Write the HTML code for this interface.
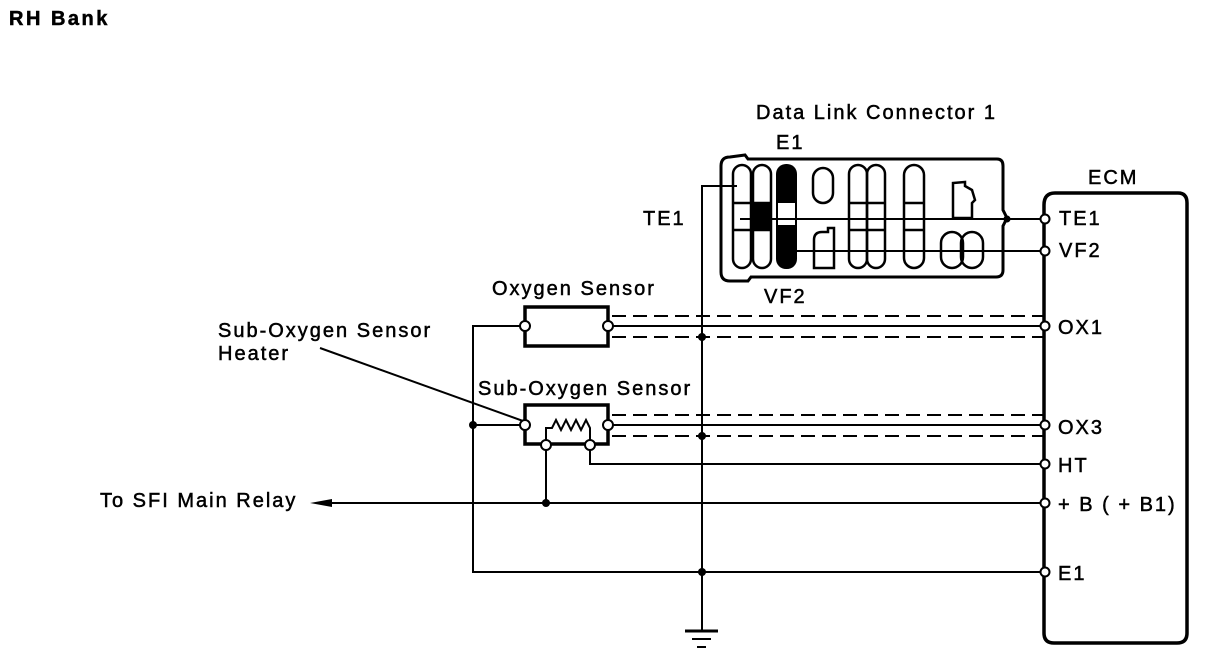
<!DOCTYPE html>
<html><head><meta charset="utf-8"><style>
html,body{margin:0;padding:0;background:#fff;}
svg{display:block;}
text{font-family:"Liberation Sans",Arial,sans-serif;fill:#000;font-size:20px;letter-spacing:2px;stroke:#000;stroke-width:0.5;}
</style></head><body>
<svg width="1216" height="668" viewBox="0 0 1216 668" xmlns="http://www.w3.org/2000/svg">
<rect width="1216" height="668" fill="#fff"/>
<text x="9" y="25" font-weight="bold" style="letter-spacing:2.5px">RH Bank</text>

<text x="756" y="119">Data Link Connector 1</text>
<text x="776" y="149">E1</text>
<text x="764" y="303">VF2</text>
<text x="643" y="225">TE1</text>
<path d="M730 157 L745 155 L748 159 L997 159 Q1003 159 1003 166 L1003 210 L1007 218 L1003 226 L1003 270 Q1003 277 996 277 L751 277 L748 281 L730 281 Q721 281 721 272 L721 166 Q721 157 730 157 Z" fill="none" stroke="#000" stroke-width="3"/>
<g fill="none" stroke="#000" stroke-width="2.5">
<rect x="733" y="165" width="18" height="103" rx="9"/>
<rect x="753" y="165" width="18" height="103" rx="9"/>
<rect x="849" y="165" width="18" height="103" rx="9"/>
<rect x="867" y="165" width="18" height="103" rx="9"/>
<rect x="904" y="165" width="20" height="103" rx="10"/>
<rect x="813" y="168" width="20" height="35" rx="10"/>
<path d="M814 268 L814 240 Q814 232 822 232 L828 232 L828 228 L834 228 L834 268 Z"/>
<path d="M953 183 L953 218 L972 218 L972 203 L975 200 L972 190 L965 186 L965 182 Z"/>
<rect x="941" y="232" width="22" height="36" rx="11"/>
<rect x="961" y="232" width="22" height="36" rx="11"/>
<line x1="733" y1="203" x2="771" y2="203"/>
<line x1="733" y1="230" x2="771" y2="230"/>
<line x1="849" y1="203" x2="885" y2="203"/>
<line x1="849" y1="230" x2="885" y2="230"/>
<line x1="904" y1="203" x2="924" y2="203"/>
<line x1="904" y1="230" x2="924" y2="230"/>
</g>
<rect x="776" y="164" width="21" height="105" rx="10" fill="#000"/>
<rect x="778" y="203" width="17" height="22" fill="#fff"/>
<rect x="753" y="203" width="18" height="27" fill="#000"/>

<text x="1088" y="184">ECM</text>
<path d="M1055 193 L1178 193 Q1187 193 1187 203 L1187 633 Q1187 643 1177 643 L1054 643 Q1044 643 1044 633 L1044 205 Q1044 193 1055 193 Z" fill="none" stroke="#000" stroke-width="3.5"/>
<text x="1059" y="225">TE1</text>
<text x="1059" y="257">VF2</text>
<text x="1058" y="334">OX1</text>
<text x="1058" y="434">OX3</text>
<text x="1058" y="472">HT</text>
<text x="1058" y="511">+ B  ( + B1)</text>
<text x="1058" y="580">E1</text>

<g fill="none" stroke="#000" stroke-width="2">
<polyline points="702,630 702,186 737,186"/>
<line x1="740" y1="219" x2="1044" y2="219"/>
<line x1="797" y1="251" x2="1044" y2="251"/>
<line x1="612" y1="326" x2="1044" y2="326"/>
<line x1="612" y1="425" x2="1044" y2="425"/>
<polyline points="590,445 590,464 1044,464"/>
<line x1="330" y1="503" x2="1044" y2="503"/>
<line x1="546" y1="445" x2="546" y2="503"/>
<polyline points="525,326 473,326 473,572 1044,572"/>
<line x1="473" y1="425" x2="525" y2="425"/>
<line x1="320" y1="348" x2="548" y2="430"/>
</g>
<g fill="none" stroke="#000" stroke-width="2" stroke-dasharray="14,7">
<line x1="612" y1="316" x2="1044" y2="316"/>
<line x1="612" y1="337" x2="1044" y2="337"/>
<line x1="612" y1="415" x2="1044" y2="415"/>
<line x1="612" y1="436" x2="1044" y2="436"/>
</g>
<polygon points="310,503 332,499 332,507" fill="#000"/>
<line x1="685" y1="631" x2="718" y2="631" stroke="#000" stroke-width="3"/>
<line x1="692" y1="639" x2="711" y2="639" stroke="#000" stroke-width="2"/>
<line x1="697" y1="647" x2="706" y2="647" stroke="#000" stroke-width="2"/>

<text x="492" y="295">Oxygen Sensor</text>
<rect x="525" y="307" width="83" height="39" fill="#fff" stroke="#000" stroke-width="3.5"/>
<text x="478" y="395">Sub-Oxygen Sensor</text>
<rect x="525" y="405" width="83" height="39" fill="#fff" stroke="#000" stroke-width="3.5"/>
<polyline points="546,445 546,428 552,428 556,420 561,430 566,420 571,430 576,420 581,430 586,420 590,428 590,445" fill="none" stroke="#000" stroke-width="2"/>
<g fill="#fff" stroke="#000" stroke-width="2">
<circle cx="525" cy="326" r="5"/><circle cx="608" cy="326" r="5"/>
<circle cx="525" cy="425" r="5"/><circle cx="608" cy="425" r="5"/>
<circle cx="546" cy="445" r="5"/><circle cx="590" cy="445" r="5"/>
<circle cx="1045" cy="219" r="4.5"/><circle cx="1045" cy="251" r="4.5"/>
<circle cx="1045" cy="326" r="4.5"/><circle cx="1045" cy="425" r="4.5"/>
<circle cx="1045" cy="464" r="4.5"/><circle cx="1045" cy="503" r="4.5"/>
<circle cx="1045" cy="572" r="4.5"/>
</g>
<g fill="#000">
<circle cx="702" cy="337" r="4"/><circle cx="702" cy="436" r="4"/>
<circle cx="702" cy="572" r="4"/><circle cx="473" cy="425" r="4"/>
<circle cx="546" cy="503" r="4"/><circle cx="1007" cy="219" r="3.5"/>
</g>
<text x="218" y="337">Sub-Oxygen Sensor</text>
<text x="218" y="360">Heater</text>
<text x="100" y="507">To SFI Main Relay</text>
</svg>
</body></html>
